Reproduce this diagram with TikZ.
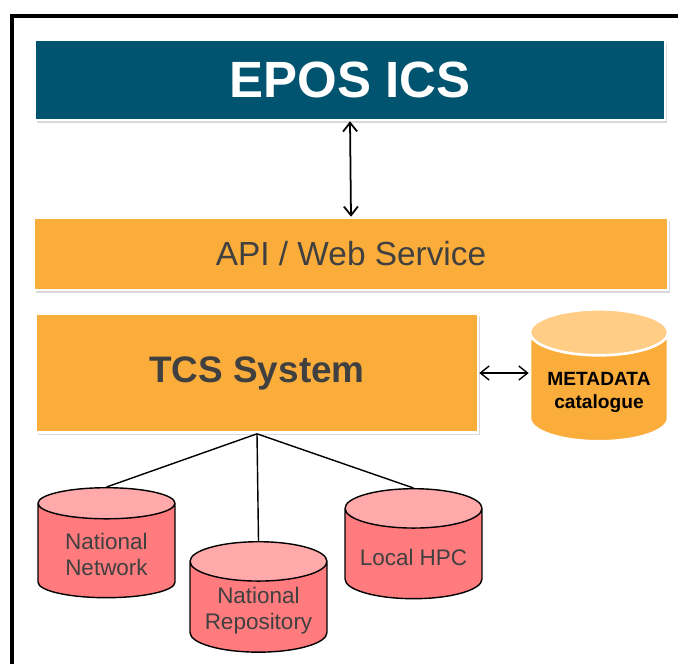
\documentclass[tikz,border=0pt]{standalone}
\usepackage{fontspec}
\setmainfont{Liberation Sans}
\usetikzlibrary{shapes.geometric,shadows,arrows.meta}
\definecolor{icsblue}{HTML}{00546F}
\definecolor{tcsorange}{HTML}{FBAD3B}
\definecolor{metatop}{HTML}{FFCD86}
\definecolor{dbred}{HTML}{FF7B7E}
\definecolor{dbtop}{HTML}{FFA9AB}
\definecolor{txtgrey}{HTML}{404040}
\tikzset{layer/.style={rectangle,draw=white,line width=1.5pt,
   drop shadow={shadow xshift=1.2pt,shadow yshift=-1.5pt,opacity=0.3}},
 store/.style={cylinder,shape border rotate=90,aspect=0.33,draw=black,
   line width=0.8pt,cylinder uses custom fill,cylinder body fill=dbred,
   cylinder end fill=dbtop,minimum width=2.74cm,minimum height=2.2cm,
   anchor=north,align=center,text=txtgrey,
   font=\fontsize{12.8}{14.8}\selectfont},
 link/.style={line width=0.8pt},
 both/.style={line width=1pt,{Straight Barb[length=5pt,width=8pt]}-{Straight Barb[length=5pt,width=8pt]}},
 }

\begin{document}
\begin{tikzpicture}[x=0.02cm,y=-0.02cm]
        \useasboundingbox (0,0) rectangle (678,664);
        % outer frame
        \draw[line width=2.3pt] (12,664) -- (12,16) -- (678,16);

        \node[layer, fill=icsblue, minimum width=12.6cm, minimum height=1.6cm,
            text=white, font=\fontsize{29}{34}\selectfont\bfseries] (ics) at (350, 80) {EPOS ICS};
        \node[layer, fill=tcsorange, minimum width=12.68cm, minimum height=1.44cm,
            text=txtgrey, font=\fontsize{19}{23}\selectfont] (api) at (351, 254) {API / Web Service};
        \node[layer, fill=tcsorange, minimum width=8.84cm, minimum height=2.38cm,
            text=txtgrey, font=\fontsize{21}{25}\selectfont\bfseries] (tcs) at (257, 373) {TCS System};
        \node[store, draw=white, line width=1.5pt, aspect=0.4, cylinder body fill=tcsorange,
            cylinder end fill=metatop, minimum width=2.76cm, minimum height=2.64cm,
            text=black, font=\fontsize{10.9}{13}\selectfont\bfseries] (meta) at (599, 308) {METADATA\\catalogue};

        \node[store] (nn) at (106.5, 487) {National\\Network};
        \node[store] (nr) at (258.5, 541) {National\\Repository};
        \node[store] (hpc) at (413.5, 488) {Local HPC};

        \draw[both] (ics.south) -- (api.north);
        \draw[both, line width=0.8pt] (tcs.east) -- (tcs.east -| meta.west);

        \coordinate (fork) at (tcs.south);
        \draw[link] (fork) -- (nn.north);
        \draw[link] (fork) -- (nr.north);
        \draw[link] (fork) -- (hpc.north);
    \end{tikzpicture}
\end{document}
